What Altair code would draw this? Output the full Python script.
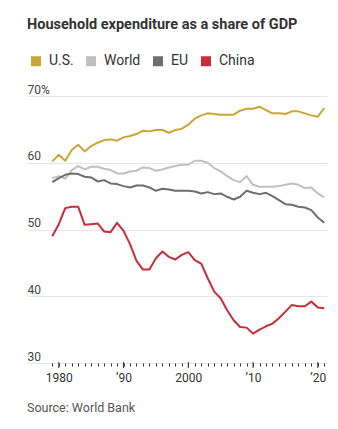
import altair as alt
import pandas as pd

years = list(range(1979, 2022))

us = [60.2, 61.2, 60.3, 61.9, 62.7, 61.7, 62.5, 63.0, 63.4, 63.5, 63.3, 63.8, 64.0, 64.3, 64.8, 64.7,
      64.9, 64.9, 64.5, 64.9, 65.1, 65.7, 66.6, 67.1, 67.4, 67.3, 67.2, 67.2, 67.2, 67.8, 68.1, 68.1,
      68.4, 67.9, 67.4, 67.4, 67.3, 67.7, 67.7, 67.4, 67.1, 66.9, 68.2]
world = [57.7, 58.0, 57.6, 58.9, 59.5, 59.0, 59.4, 59.4, 59.1, 58.9, 58.4, 58.4, 58.7, 58.8, 59.3,
         59.2, 58.8, 59.0, 59.3, 59.5, 59.7, 59.7, 60.3, 60.3, 60.0, 59.2, 58.7, 58.0, 57.4, 57.1,
         58.0, 56.7, 56.4, 56.4, 56.4, 56.5, 56.7, 56.9, 56.7, 56.2, 56.3, 55.4, 54.8]
eu = [57.1, 57.7, 58.2, 58.4, 58.3, 57.9, 57.8, 57.2, 57.4, 56.9, 56.8, 56.5, 56.3, 56.6, 56.6, 56.3,
      55.8, 56.1, 56.0, 55.8, 55.8, 55.8, 55.7, 55.4, 55.6, 55.3, 55.4, 54.9, 54.5, 54.9, 55.8, 55.5,
      55.3, 55.5, 55.0, 54.4, 53.8, 53.7, 53.4, 53.3, 52.9, 51.8, 51.0]
china = [49.0, 50.8, 53.2, 53.4, 53.4, 50.7, 50.8, 50.9, 49.7, 49.6, 51.0, 49.8, 47.8, 45.3, 44.0,
         44.0, 45.7, 46.7, 45.9, 45.5, 46.2, 46.6, 45.4, 44.9, 42.7, 40.7, 39.7, 37.9, 36.4, 35.4,
         35.3, 34.4, 35.0, 35.5, 35.9, 36.7, 37.7, 38.7, 38.5, 38.5, 39.2, 38.3, 38.2]

series_names = ["U.S.", "World", "EU", "China"]
series_colors = ["#c9a635", "#c0c0c0", "#6e6e6e", "#c92d39"]

y_ticks = [30, 40, 50, 60, 70]
x_major = [1980, 1990, 2000, 2010, 2020]
x_major_labels = ["1980", "\u201990", "2000", "\u201910", "\u201920"]

title_text = "Household expenditure as a share of GDP"
source_text = "Source: World Bank"

W, H = 300, 267
FONT = "Roboto"

rows = []
for i, (name, vals) in enumerate(zip(series_names, [us, world, eu, china])):
    for yr, v in zip(years, vals):
        rows.append({"year": yr, "value": v, "series": name, "k": i})
df = pd.DataFrame(rows)

label_expr = " : ".join(
    f"datum.value == {y} ? '{l}'" for y, l in zip(x_major, x_major_labels)
) + " : ''"

x_scale = alt.Scale(domain=[1975.09, 2021.42], nice=False, zero=False)
y_scale = alt.Scale(domain=[30, 70], nice=False, zero=False)

x_axis = alt.Axis(values=years, labelExpr=label_expr, title=None, grid=False, domain=False,
                  tickSize=3, tickColor="#333333", labelFont=FONT, labelFontSize=12,
                  labelColor="#333333", labelPadding=6)

lines = alt.Chart(df).mark_line(strokeWidth=2, strokeJoin="round").encode(
    x=alt.X("year:Q", scale=x_scale, axis=x_axis),
    y=alt.Y("value:Q", scale=y_scale, axis=alt.Axis(
        values=y_ticks, title=None, grid=True, gridColor="#e6e6e6", gridWidth=1,
        domain=False, ticks=False, tickSize=0, labelAlign="left", labelPadding=0,
        labelBaseline="alphabetic", labelOffset=-3,
        labelExpr="datum.value == 70 ? '70%' : datum.label",
        labelFont=FONT, labelFontSize=12, labelColor="#444444")),
    color=alt.Color("series:N", sort=series_names,
                    scale=alt.Scale(domain=series_names, range=series_colors),
                    legend=alt.Legend(orient="none", direction="horizontal", legendX=2, legendY=-42,
                                      title=None, symbolType="square", symbolSize=25,
                                      symbolStrokeWidth=5, symbolOpacity=1, labelFont=FONT,
                                      labelFontSize=14, labelColor="#333333", labelOffset=6,
                                      columnPadding=4, padding=0)),
    order=alt.Order("k:Q"),
)

major_ticks = alt.Chart(pd.DataFrame({"year": x_major})).mark_rule(
    color="#333333", strokeWidth=1
).encode(
    x=alt.X("year:Q", scale=x_scale, axis=x_axis),
    y=alt.value(H - 1),
    y2=alt.value(H + 5),
)

title = alt.Chart(pd.DataFrame({"t": [title_text]})).mark_text(
    align="left", baseline="alphabetic", font=FONT, fontSize=14.5, fontWeight="bold",
    color="#333333"
).encode(text="t:N", x=alt.value(0), y=alt.value(-67))

source = alt.Chart(pd.DataFrame({"t": [source_text]})).mark_text(
    align="left", baseline="alphabetic", font=FONT, fontSize=12.5, color="#555555"
).encode(text="t:N", x=alt.value(0), y=alt.value(316))

chart = alt.layer(lines, major_ticks, title, source).properties(
    width=W, height=H,
    autosize=alt.AutoSizeParams(type="none"),
    padding={"left": 27, "top": 96, "right": 11, "bottom": 66},
    background="white",
).configure_view(stroke=None)

chart.save("out.html", embed_options={"renderer": "svg", "actions": False})
